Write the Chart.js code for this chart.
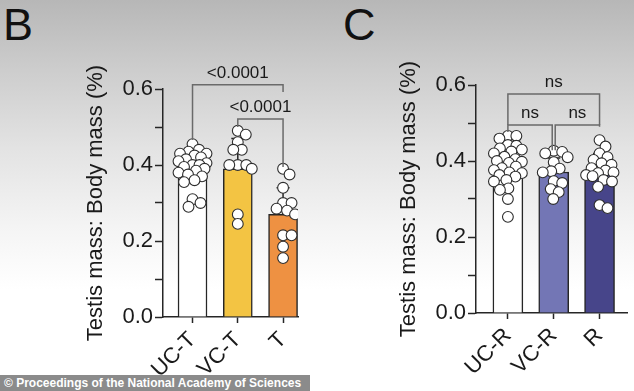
<!DOCTYPE html>
<html><head><meta charset="utf-8">
<script src="https://cdn.jsdelivr.net/npm/chart.js@4.4.0/dist/chart.umd.min.js"></script>
<style>
html,body{margin:0;padding:0;}
body{width:634px;height:391px;overflow:hidden;position:relative;
 background:linear-gradient(to bottom,#b7b7b7 0%,#cdcdcd 18%,#e3e3e3 38%,#f4f4f4 58%,#ffffff 74%,#ffffff 100%);
 font-family:"Liberation Sans",Arial,Helvetica,sans-serif;}
canvas{position:absolute;top:0;}
#cB{left:0;}
#cC{left:320px;}
.letter{position:absolute;font-size:45px;line-height:45px;color:#111;}
#footer{position:absolute;left:0;top:375px;width:306px;height:16px;background:#8b8b8b;color:#fff;
 font-weight:bold;font-size:12px;line-height:16px;padding-left:4px;white-space:nowrap;z-index:5;}
</style></head><body>
<div class="letter" style="left:3px;top:2px">B</div>
<div class="letter" style="left:343px;top:2px">C</div>
<canvas id="cB" width="320" height="391"></canvas>
<canvas id="cC" width="314" height="391"></canvas>
<div id="footer">© Proceedings of the National Academy of Sciences</div>
<script>
// ---------- data ----------
const yTicks = [0.0, 0.2, 0.4, 0.6];
const yTitle = 'Testis mass: Body mass (%)';

const categoriesB = ['UC-T', 'VC-T', 'T'];
const meansB = [0.385, 0.39, 0.27];
const sdB = [0.045, 0.08, 0.07];
const pointsUCT = [0.455, 0.44, 0.435, 0.43, 0.43, 0.425, 0.42, 0.415, 0.41, 0.405, 0.40, 0.40, 0.395, 0.39, 0.385, 0.38, 0.375, 0.37, 0.36, 0.355, 0.31, 0.30, 0.29];
const pointsVCT = [0.49, 0.48, 0.46, 0.44, 0.44, 0.40, 0.40, 0.40, 0.39, 0.27, 0.245];
const pointsT = [0.39, 0.375, 0.34, 0.30, 0.30, 0.285, 0.28, 0.27, 0.215, 0.215, 0.185, 0.155];
const bracketsB = [
  {from: 0, to: 2, level: 0.611, fromEnd: 0.466, toEnd: 0.592, label: '<0.0001'},
  {from: 1, to: 2, level: 0.521, fromEnd: 0.500, toEnd: 0.395, label: '<0.0001'}
];

const categoriesC = ['UC-R', 'VC-R', 'R'];
const meansC = [0.382, 0.371, 0.373];
const sdC = [0.058, 0.037, 0.047];
const pointsUCR = [0.466, 0.466, 0.459, 0.442, 0.44, 0.433, 0.43, 0.425, 0.42, 0.411, 0.405, 0.40, 0.398, 0.395, 0.385, 0.381, 0.376, 0.37, 0.368, 0.363, 0.359, 0.35, 0.346, 0.328, 0.324, 0.30, 0.253];
const pointsVCR = [0.427, 0.424, 0.42, 0.41, 0.397, 0.38, 0.373, 0.37, 0.347, 0.342, 0.326, 0.318, 0.30];
const pointsR = [0.455, 0.438, 0.42, 0.41, 0.403, 0.394, 0.39, 0.381, 0.375, 0.37, 0.368, 0.363, 0.36, 0.35, 0.346, 0.332, 0.284, 0.276];
const bracketsC = [
  {from: 0, to: 2, level: 0.576, fromEnd: 0.495, toEnd: 0.495, label: 'ns'},
  {from: 0, to: 1, level: 0.495, fromEnd: 0.476, toEnd: 0.428, label: 'ns', toGap: -1.5},
  {from: 1, to: 2, level: 0.495, fromEnd: 0.428, toEnd: 0.490, label: 'ns', fromGap: 1.5}
];

// ---------- helpers ----------
const FONT = '"Liberation Sans", Arial, Helvetica, sans-serif';
const INK = '#262626';

// beeswarm layout: pixel offsets, limited to a maximum half-width
function swarmOffsets(values, pxPerY, minDist, maxOff) {
  const order = values.map((v, i) => i).sort((a, b) => values[b] - values[a]);
  const placed = [];
  const offs = new Array(values.length).fill(0);
  for (const i of order) {
    const y = values[i] * pxPerY;
    let best = 0, bestScore = -1;
    for (let k = 0; ; k++) {
      const cand = k === 0 ? 0 : ((k % 2) ? 1 : -1) * Math.ceil(k / 2) * 0.5;
      if (Math.abs(cand) > maxOff) break;
      let md = Infinity;
      for (const p of placed) {
        const dx = cand - p.x, dy = y - p.y;
        md = Math.min(md, Math.sqrt(dx * dx + dy * dy));
      }
      if (md >= minDist) { best = cand; break; }
      if (md > bestScore) { bestScore = md; best = cand; }
    }
    offs[i] = best; placed.push({x: best, y});
  }
  return offs;
}

const errorBarPlugin = {
  id: 'errorBars',
  afterDatasetDraw(chart, args, opts) {
    if (args.meta.type !== 'bar') return;
    const ctx = chart.ctx, xs = chart.scales.x, ys = chart.scales.y;
    ctx.save();
    ctx.strokeStyle = INK; ctx.lineWidth = 1.5;
    opts.means.forEach((m, i) => {
      const x = xs.getPixelForValue(i);
      const y1 = ys.getPixelForValue(m), y2 = ys.getPixelForValue(m + opts.sd[i]);
      ctx.beginPath();
      ctx.moveTo(x, y1); ctx.lineTo(x, y2);
      ctx.moveTo(x - 6.5, y2); ctx.lineTo(x + 6.5, y2);
      ctx.stroke();
    });
    ctx.restore();
  }
};

const bracketPlugin = {
  id: 'brackets',
  afterDraw(chart, args, opts) {
    const ctx = chart.ctx, xs = chart.scales.x, ys = chart.scales.y;
    ctx.save();
    ctx.strokeStyle = '#6a6a6a'; ctx.lineWidth = 1.5;
    ctx.fillStyle = '#1a1a1a';
    ctx.font = '17px ' + FONT;
    ctx.textAlign = 'center'; ctx.textBaseline = 'alphabetic';
    opts.items.forEach(b => {
      const xa = xs.getPixelForValue(b.from) + (b.fromGap || 0);
      const xb = xs.getPixelForValue(b.to) + (b.toGap || 0);
      const yl = ys.getPixelForValue(b.level);
      ctx.beginPath();
      ctx.moveTo(xa, ys.getPixelForValue(b.fromEnd));
      ctx.lineTo(xa, yl); ctx.lineTo(xb, yl);
      ctx.lineTo(xb, ys.getPixelForValue(b.toEnd));
      ctx.stroke();
      ctx.fillText(b.label, (xa + xb) / 2, yl - 7);
    });
    ctx.restore();
  }
};

function makePanel(id, p) {
  const swarmData = [];
  p.groups.forEach((vals, gi) => {
    const offs = swarmOffsets(vals, 380, 8.5, 14);
    vals.forEach((v, k) => swarmData.push({x: gi + offs[k] / p.pxPerX, y: v}));
  });
  return new Chart(document.getElementById(id), {
    data: {
      datasets: [
        {
          type: 'scatter', data: swarmData, order: 1,
          pointRadius: 5.4, pointHoverRadius: 5.4,
          pointBackgroundColor: '#ffffff', pointBorderColor: '#2e2e2e', pointBorderWidth: 1.1
        },
        {
          type: 'bar', order: 2,
          data: p.means.map((m, i) => ({x: i, y: m})),
          backgroundColor: p.colors, borderColor: INK, borderWidth: 1.5,
          barThickness: p.barWidth, borderSkipped: 'bottom'
        }
      ]
    },
    options: {
      responsive: false, animation: false, devicePixelRatio: 1,
      layout: {padding: p.padding},
      plugins: {
        legend: {display: false}, tooltip: {enabled: false},
        errorBars: {means: p.means, sd: p.sd},
        brackets: {items: p.brackets}
      },
      scales: {
        x: {
          type: 'linear', min: p.xMin, max: p.xMax, offset: false,
          afterBuildTicks: s => { s.ticks = p.categories.map((c, i) => ({value: i})); },
          afterFit: s => { s.height = p.xHeight; },
          ticks: {
            callback: v => p.categories[v], autoSkip: false,
            minRotation: 45, maxRotation: 45, padding: 4,
            color: '#1a1a1a', font: {family: FONT, size: 22}
          },
          grid: {drawOnChartArea: false, tickLength: 6, color: INK, tickWidth: 1.5, offset: false},
          border: {color: INK, width: 1.5}
        },
        y: {
          type: 'linear', min: 0, max: 0.6,
          afterBuildTicks: s => {
            const t = [];
            for (let i = 0; i < yTicks.length; i++) {
              t.push({value: yTicks[i]});
              if (i < yTicks.length - 1) t.push({value: (yTicks[i] + yTicks[i + 1]) / 2, minor: true});
            }
            s.ticks = t;
          },
          afterFit: s => { s.width = p.yWidth; },
          ticks: {
            callback: v => (yTicks.some(t => Math.abs(t - v) < 1e-9) ? v.toFixed(1) : ''),
            padding: 2, color: '#1a1a1a', font: {family: FONT, size: 22}
          },
          grid: {drawOnChartArea: false, tickLength: 8, color: INK, tickWidth: 1.5},
          border: {color: INK, width: 1.5},
          title: {display: true, text: yTitle, color: '#1a1a1a', font: {family: FONT, size: 22}, padding: {top: 0, bottom: 0}}
        }
      }
    },
    plugins: [errorBarPlugin, bracketPlugin]
  });
}

makePanel('cB', {
  categories: categoriesB, means: meansB, sd: sdB,
  groups: [pointsUCT, pointsVCT, pointsT], brackets: bracketsB,
  colors: ['#ffffff', '#f3c443', '#ee9142'],
  padding: {left: 83, top: 89, right: 22, bottom: 0},
  yWidth: 80, xHeight: 74, xMin: -0.652, xMax: 2.33, pxPerX: 45.27, barWidth: 29
});
makePanel('cC', {
  categories: categoriesC, means: meansC, sd: sdC,
  groups: [pointsUCR, pointsVCR, pointsR], brackets: bracketsC,
  colors: ['#ffffff', '#7376b5', '#47458a'],
  padding: {left: 76, top: 85, right: 6, bottom: 0},
  yWidth: 80, xHeight: 78, xMin: -0.696, xMax: 2.61, pxPerX: 45.98, barWidth: 30
});
</script>
</body></html>
